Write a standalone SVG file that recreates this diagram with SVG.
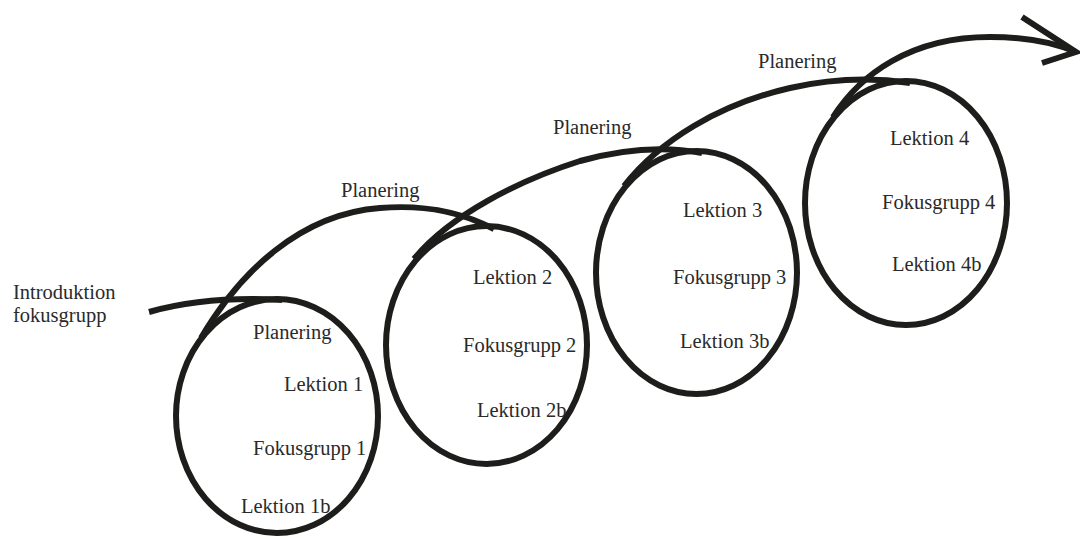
<svg xmlns="http://www.w3.org/2000/svg" width="1080" height="539" viewBox="0 0 1080 539">
<style>
.s{fill:none;stroke:#1d1d1b;stroke-width:6;stroke-linecap:butt;stroke-linejoin:miter}
.t{font-size:20.5px;fill:#2a2a2a}
</style>
<rect width="1080" height="539" fill="#ffffff"/>
<g id="connectors">
<path class="s" d="M149,312 C185,302 230,297 282,300"/>
<path class="s" d="M201,338 C240,272 300,214 380,208 C430,204 465,214 494,229"/>
<path class="s" d="M414,259 C450,215 520,180 580,161 C630,147 670,147 702,153"/>
<path class="s" d="M624,186 C660,140 720,104 790,88 C830,79 870,77 910,83"/>
<path class="s" d="M833,117 C860,75 910,37 990,37 C1030,37 1055,43 1076,52"/>
<path class="s" d="M1022,17 L1076,52 L1042,63"/>
</g>
<g class="t" font-family="Liberation Serif, Times New Roman, Tinos, Noto Serif, DejaVu Serif, serif">
<g id="intro">
<text x="13" y="299">Introduktion</text>
<text x="13" y="322">fokusgrupp</text>
</g>
<g id="planering-labels">
<text x="341" y="197">Planering</text>
<text x="553" y="134">Planering</text>
<text x="758" y="68">Planering</text>
</g>
<g id="node1">
<ellipse class="s" cx="277" cy="416" rx="101" ry="117"/>
<text x="253" y="339">Planering</text>
<text x="284" y="391">Lektion 1</text>
<text x="253" y="455">Fokusgrupp 1</text>
<text x="241" y="513">Lektion 1b</text>
</g>
<g id="node2">
<ellipse class="s" cx="486.5" cy="345" rx="100.5" ry="119"/>
<text x="473" y="284">Lektion 2</text>
<text x="463" y="352">Fokusgrupp 2</text>
<text x="477" y="417">Lektion 2b</text>
</g>
<g id="node3">
<ellipse class="s" cx="696.5" cy="272.5" rx="100.5" ry="121.5"/>
<text x="683" y="217">Lektion 3</text>
<text x="673" y="284">Fokusgrupp 3</text>
<text x="680" y="348">Lektion 3b</text>
</g>
<g id="node4">
<ellipse class="s" cx="906" cy="203" rx="101" ry="122"/>
<text x="890" y="145">Lektion 4</text>
<text x="882" y="209">Fokusgrupp 4</text>
<text x="892" y="271">Lektion 4b</text>
</g>
</g>
</svg>
